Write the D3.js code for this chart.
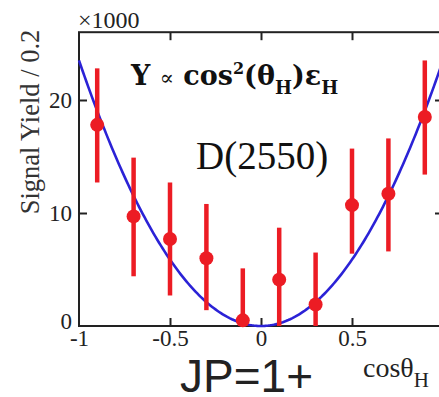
<!DOCTYPE html>
<html>
<head>
<meta charset="utf-8">
<script src="https://cdn.jsdelivr.net/npm/d3@7"></script>
<style>
  html, body { margin: 0; padding: 0; background: #fff; }
  svg { display: block; }
  .serif { font-family: "Liberation Serif", "Times New Roman", Times, "DejaVu Serif", serif; }
  .wserif { font-family: "DejaVu Serif", "Liberation Serif", serif; }
</style>
</head>
<body>
<svg id="chart" width="439" height="397"></svg>
<script>
// ---- data (values in units of 1000) ----
const cosTheta = [-0.9, -0.7, -0.5, -0.3, -0.1, 0.1, 0.3, 0.5, 0.7, 0.9];
const yieldVal = [17.8, 9.7, 7.7, 6.0, 0.5, 4.1, 1.9, 10.7, 11.7, 18.5];
const errUp    = [5.0, 5.2, 5.0, 4.8, 4.6, 4.6, 4.6, 5.0, 4.9, 5.0];
const errDown  = [5.1, 5.3, 5.0, 4.6, 0.5, 4.1, 1.9, 4.3, 5.1, 5.1];
const fitAmp = 23.5;   // Y = fitAmp * cos^2
const xTicks = [-1, -0.5, 0, 0.5, 1];
const xTickLabels = ["-1", "-0.5", "0", "0.5", "1"];
const yTicks = [0, 10, 20];
const yTickLabels = ["0", "10", "20"];

const svg = d3.select("#chart");
const x = d3.scaleLinear().domain([-1, 1]).range([79, 443]);
const y = d3.scaleLinear().domain([0, 26]).range([326, 32.2]);
const axisColor = "#222";

// frame
svg.append("rect")
  .attr("x", x(-1)).attr("y", y(26))
  .attr("width", x(1) - x(-1)).attr("height", y(0) - y(26))
  .attr("fill", "none").attr("stroke", axisColor).attr("stroke-width", 2);

function styleAxis(g) {
  g.attr("font-family", null).attr("font-size", null);
  g.select(".domain").remove();
  g.selectAll(".tick line").attr("stroke", axisColor).attr("stroke-width", 2);
  g.selectAll(".tick text").attr("fill", axisColor).attr("class", "serif")
    .style("font-size", "23px");
}

// bottom axis
svg.append("g").attr("transform", `translate(0,${y(0)})`)
  .call(d3.axisBottom(x).tickValues(xTicks).tickSize(-8).tickPadding(4)
    .tickFormat((d, i) => xTickLabels[i]))
  .call(styleAxis)
  .call(g => g.selectAll(".tick line").filter(d => d === -1 || d === 1).remove());

// top axis
svg.append("g").attr("transform", `translate(0,${y(26)})`)
  .call(d3.axisTop(x).tickValues([-0.5, 0, 0.5]).tickSize(-8).tickFormat(""))
  .call(styleAxis);

// left axis
svg.append("g").attr("transform", `translate(${x(-1)},0)`)
  .call(d3.axisLeft(y).tickValues(yTicks).tickSize(-8).tickPadding(7)
    .tickFormat((d, i) => yTickLabels[i]))
  .call(styleAxis)
  .call(g => g.selectAll(".tick line").filter(d => d === 0).remove())
  .call(g => g.selectAll(".tick text").filter(d => d === 0).attr("dy", "0.1em"));

// right axis
svg.append("g").attr("transform", `translate(${x(1)},0)`)
  .call(d3.axisRight(y).tickValues([10, 20]).tickSize(-8).tickFormat(""))
  .call(styleAxis);

// fit curve
const curveData = d3.range(-1, 1.0001, 0.01);
svg.append("path")
  .datum(curveData)
  .attr("fill", "none").attr("stroke", "#2b22d6").attr("stroke-width", 2.6)
  .attr("d", d3.line().x(d => x(d)).y(d => y(fitAmp * d * d)));

// error bars and points
const red = "#ec1c24";
const pts = cosTheta.map((c, i) => ({c, v: yieldVal[i], up: errUp[i], dn: errDown[i]}));
svg.append("g").selectAll("line").data(pts).join("line")
  .attr("x1", d => x(d.c)).attr("x2", d => x(d.c))
  .attr("y1", d => y(Math.max(0, d.v - d.dn))).attr("y2", d => y(d.v + d.up))
  .attr("stroke", red).attr("stroke-width", 4.5);
svg.append("g").selectAll("circle").data(pts).join("circle")
  .attr("cx", d => x(d.c)).attr("cy", d => y(d.v)).attr("r", 7)
  .attr("fill", red);

// texts
svg.append("text").attr("class", "serif").attr("x", 78).attr("y", 28)
  .style("font-size", "24px").attr("fill", axisColor)
  .text("×1000");

svg.append("text").attr("class", "serif")
  .attr("transform", "translate(39,122) rotate(-90)")
  .attr("text-anchor", "middle")
  .style("font-size", "26.5px").attr("fill", "#333")
  .text("Signal Yield / 0.2");

const formula = svg.append("text").attr("class", "wserif").attr("x", 131).attr("y", 85)
  .style("font-size", "27px").style("font-weight", "bold")
  .attr("fill", "#111");
formula.append("tspan").text("Y ");
formula.append("tspan").style("font-size", "21px").style("font-weight", "normal").text("∝");
formula.append("tspan").text(" cos");
formula.append("tspan").attr("dy", -11).style("font-size", "16px").text("2");
formula.append("tspan").attr("dy", 11).text("(θ");
formula.append("tspan").attr("dy", 9).style("font-size", "18px").text("H");
formula.append("tspan").attr("dy", -9).text(")ε");
formula.append("tspan").attr("dy", 9).style("font-size", "18px").text("H");

svg.append("text").attr("class", "serif").attr("x", 196).attr("y", 169)
  .style("font-size", "39px").attr("fill", "#111")
  .text("D(2550)");

const xl = svg.append("text").attr("class", "serif").attr("x", 363).attr("y", 377)
  .style("font-size", "28px").attr("fill", "#222");
xl.append("tspan").text("cosθ");
xl.append("tspan").attr("dy", 10).style("font-size", "21px").text("H");

svg.append("text").attr("x", 180).attr("y", 392)
  .style("font-family", "'Liberation Sans', Arial, sans-serif").style("font-size", "46px")
  .attr("fill", "#222")
  .text("JP=1+");
</script>
</body>
</html>
